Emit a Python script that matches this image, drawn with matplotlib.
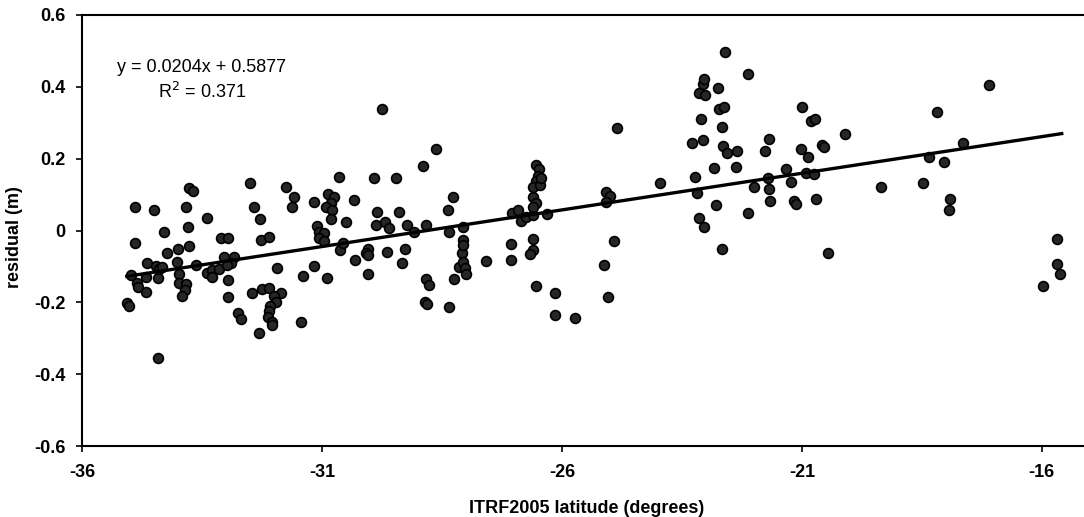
import matplotlib
matplotlib.use("Agg")
import matplotlib.pyplot as plt
import numpy as np

# latitude (degrees) and residual (m)
lat = [
    -35.07, -35.03, -34.98, -34.90, -34.89, -34.86, -34.83, -34.67, -34.67, -34.64,
    -34.50, -34.45, -34.42, -34.42, -34.39, -34.33, -34.29, -34.23, -34.01, -34.00,
    -33.98, -33.98, -33.84, -33.85, -33.91, -33.84, -33.80, -33.77, -33.68, -33.77,
    -33.63, -33.39, -33.39, -33.30, -33.28, -33.14, -33.11, -32.95, -33.05, -32.83,
    -32.90, -32.97, -32.95, -32.95, -32.74, -32.69, -32.50, -32.41, -32.29, -32.27,
    -32.11, -32.45, -32.25, -32.10, -31.86, -31.99, -31.96, -32.09, -32.11, -32.12,
    -32.03, -32.03, -32.32, -31.93, -31.75, -31.59, -31.63, -31.44, -31.40, -31.16,
    -31.16, -31.11, -31.07, -30.95, -31.06, -30.95, -30.88, -30.74, -30.81, -30.92,
    -30.78, -30.81, -30.90, -30.64, -30.62, -30.57, -30.49, -30.33, -30.31, -30.05,
    -30.08, -30.05, -30.05, -29.91, -29.87, -29.85, -29.74, -29.68, -29.60, -29.65,
    -29.45, -29.39, -29.33, -29.26, -29.22, -29.09, -28.89, -28.83, -28.83, -28.76,
    -28.85, -28.80, -28.62, -28.38, -28.36, -28.35, -28.26, -28.24, -28.14, -28.09,
    -28.07, -28.07, -28.07, -28.05, -28.02, -28.00, -27.58, -27.05, -27.05, -27.03,
    -26.92, -26.85, -26.75, -26.61, -26.61, -26.53, -26.61, -26.61, -26.61, -26.66,
    -26.53, -26.54, -26.47, -26.50, -26.54, -26.61, -26.45, -26.43, -26.30, -26.15,
    -26.15, -25.73, -25.13, -25.08, -24.99, -25.08, -25.03, -24.91, -24.86, -23.95,
    -23.28, -23.23, -23.19, -23.15, -23.15, -23.01, -23.11, -23.06, -23.03, -23.05,
    -23.04, -22.82, -22.78, -22.75, -22.72, -22.63, -22.67, -22.67, -22.65, -22.55,
    -22.61, -22.37, -22.35, -22.12, -22.12, -22.00, -21.77, -21.69, -21.71, -21.69,
    -21.66, -21.34, -21.22, -21.17, -21.13, -20.99, -21.02, -20.87, -20.92, -20.75,
    -20.80, -20.72, -20.71, -20.57, -20.54, -20.46, -20.09, -19.35, -18.48, -18.34,
    -18.18, -18.04, -17.94, -17.92, -17.65, -17.10, -15.97, -15.68, -15.68, -15.62,
]
residual = [
    -0.203, -0.209, -0.124, 0.065, -0.036, -0.145, -0.158, -0.129, -0.170, -0.091,
    0.057, -0.099, -0.133, -0.356, -0.108, -0.101, -0.003, -0.062, -0.087, -0.052,
    -0.121, -0.145, -0.150, -0.166, -0.182, 0.066, 0.011, 0.119, 0.111, -0.042,
    -0.096, 0.036, -0.119, -0.110, -0.129, -0.108, -0.022, -0.022, -0.073, -0.073,
    -0.091, -0.096, -0.138, -0.184, -0.231, -0.247, 0.133, 0.066, 0.031, -0.026,
    -0.019, -0.173, -0.164, -0.159, -0.173, -0.182, -0.198, -0.209, -0.224, -0.242,
    -0.254, -0.263, -0.284, -0.103, 0.122, 0.094, 0.066, -0.254, -0.126, 0.079,
    -0.099, 0.013, -0.003, -0.006, -0.022, -0.028, 0.101, 0.094, 0.076, 0.066,
    0.057, 0.032, -0.133, 0.148, -0.054, -0.034, 0.025, 0.085, -0.082, -0.052,
    -0.062, -0.068, -0.121, 0.145, 0.015, 0.052, 0.338, 0.023, 0.006, -0.059,
    0.145, 0.052, -0.090, -0.052, 0.015, -0.003, 0.180, 0.015, -0.135, -0.152,
    -0.198, -0.205, 0.226, 0.057, -0.005, -0.212, 0.092, -0.135, -0.101, -0.064,
    0.011, -0.026, -0.040, -0.087, -0.103, -0.121, -0.085, -0.038, -0.082, 0.050,
    0.057, 0.027, 0.038, 0.043, 0.092, 0.076, 0.066, -0.024, -0.054, -0.066,
    -0.155, 0.182, 0.170, 0.152, 0.139, 0.122, 0.127, 0.146, 0.046, -0.173,
    -0.235, -0.243, -0.097, 0.106, 0.097, 0.080, -0.186, -0.029, 0.285, 0.131,
    0.243, 0.148, 0.105, 0.036, 0.382, 0.377, 0.310, 0.408, 0.421, 0.252,
    0.009, 0.175, 0.071, 0.396, 0.338, 0.343, 0.289, -0.052, 0.235, 0.217,
    0.497, 0.178, 0.222, 0.436, 0.048, 0.122, 0.221, 0.255, 0.147, 0.116,
    0.082, 0.171, 0.136, 0.081, 0.074, 0.343, 0.226, 0.206, 0.159, 0.156,
    0.306, 0.310, 0.087, 0.238, 0.233, -0.064, 0.268, 0.122, 0.133, 0.206,
    0.329, 0.190, 0.056, 0.087, 0.243, 0.406, -0.155, -0.024, -0.093, -0.120,
]

slope = 0.0204
intercept = 0.5877
r_squared = 0.371

x_ticks = [-36, -31, -26, -21, -16]
y_ticks = [-0.6, -0.4, -0.2, 0, 0.2, 0.4, 0.6]

plt.rcParams['font.family'] = ['Liberation Sans', 'DejaVu Sans']
plt.rcParams['axes.unicode_minus'] = False

fig = plt.figure(figsize=(10.84, 5.17), dpi=100)
# right edge of the plot area runs past the figure, as in the scan
ax = fig.add_axes([0.0756, 0.1373, 0.974, 0.8337])

ax.scatter(lat, residual, s=50, facecolor='#262626', edgecolor='black',
           linewidths=1.2, zorder=2)

# trend line
x_fit = np.array([min(lat) - 0.03, max(lat) + 0.07])
ax.plot(x_fit, slope * x_fit + intercept, color='black', lw=2.4, zorder=3,
        solid_capstyle='butt')

ax.text(-33.5, 0.455, f"y = {slope:.4f}x + {intercept:.4f}", ha='center',
        va='center', fontsize=13)
ax.text(-33.5, 0.386, f"R$^2$ = {r_squared}", ha='center', va='center',
        fontsize=13)

ax.set_xlim(-36, -14)
ax.set_ylim(-0.6, 0.6)
ax.set_xticks(x_ticks)
ax.set_xticklabels([str(t) for t in x_ticks])
ax.set_yticks(y_ticks)
ax.set_yticklabels([f"{t:g}" for t in y_ticks])
ax.tick_params(axis='x', direction='out', length=4, width=1.2, labelsize=13, pad=9)
ax.tick_params(axis='y', direction='out', length=4, width=1.2, labelsize=13, pad=8)
for lab in ax.get_xticklabels() + ax.get_yticklabels():
    lab.set_fontweight('bold')

for sp in ax.spines.values():
    sp.set_linewidth(1.5)

ax.set_xlabel("ITRF2005 latitude (degrees)", fontsize=13, fontweight='bold')
ax.set_ylabel("residual (m)", fontsize=13, fontweight='bold')
ax.xaxis.set_label_coords(0.478, -0.125)
ax.yaxis.set_label_coords(-0.056, 0.485)

fig.savefig("out.png", dpi=100)
